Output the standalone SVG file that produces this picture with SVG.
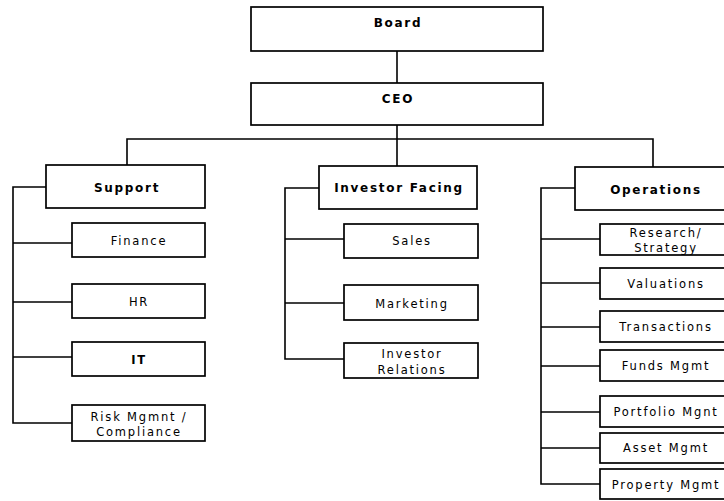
<svg xmlns="http://www.w3.org/2000/svg" width="724" height="501" viewBox="0 0 724 501">
  <style>
    .box { fill: #ffffff; stroke: #000000; stroke-width: 1.7; }
    .wire { fill: none; stroke: #000000; stroke-width: 1.6; }
    .head { font-family: "DejaVu Sans", Verdana, sans-serif; font-size: 12px; font-weight: bold; letter-spacing: 1.7px; fill: #000; text-anchor: middle; }
    .unit { font-family: "DejaVu Sans", Verdana, sans-serif; font-size: 11.5px; letter-spacing: 1.8px; fill: #000; text-anchor: middle; }
  </style>
  <rect width="724" height="501" fill="#ffffff"/>

  <!-- reporting lines -->
  <g id="connectors">
    <path class="wire" d="M397 51 V83"/>
    <path class="wire" d="M397 125 V166"/>
    <path class="wire" d="M127 165 V139 H653 V167"/>
    <!-- Support branch -->
    <path class="wire" d="M46 187 H13 V423 H72"/>
    <path class="wire" d="M13 243 H72"/>
    <path class="wire" d="M13 302 H72"/>
    <path class="wire" d="M13 357 H72"/>
    <!-- Investor Facing branch -->
    <path class="wire" d="M319 188 H285 V359 H344"/>
    <path class="wire" d="M285 239 H344"/>
    <path class="wire" d="M285 303 H344"/>
    <!-- Operations branch -->
    <path class="wire" d="M575 188 H541 V484 H600"/>
    <path class="wire" d="M541 239 H600"/>
    <path class="wire" d="M541 283 H600"/>
    <path class="wire" d="M541 327 H600"/>
    <path class="wire" d="M541 366 H600"/>
    <path class="wire" d="M541 412 H600"/>
    <path class="wire" d="M541 448 H600"/>
  </g>

  <g id="board">
    <rect class="box" x="251" y="7" width="292" height="44"/>
    <text class="head" x="398" y="27">Board</text>
  </g>
  <g id="ceo">
    <rect class="box" x="251" y="83" width="292" height="42"/>
    <text class="head" x="398" y="103">CEO</text>
  </g>

  <!-- Support -->
  <g id="support">
    <rect class="box" x="46" y="165" width="159" height="43"/>
    <text class="head" x="127" y="192">Support</text>
  </g>
  <g id="finance">
    <rect class="box" x="72" y="223" width="133" height="34"/>
    <text class="unit" x="139" y="245">Finance</text>
  </g>
  <g id="hr">
    <rect class="box" x="72" y="284" width="133" height="34"/>
    <text class="unit" x="139" y="306">HR</text>
  </g>
  <g id="it">
    <rect class="box" x="72" y="342" width="133" height="34"/>
    <text class="unit" x="139" y="364" font-weight="bold">IT</text>
  </g>
  <g id="risk">
    <rect class="box" x="72" y="405" width="133" height="36"/>
    <text class="unit" x="139" y="421">Risk Mgmnt /</text>
    <text class="unit" x="139" y="436">Compliance</text>
  </g>

  <!-- Investor Facing -->
  <g id="investor-facing">
    <rect class="box" x="319" y="166" width="158" height="43"/>
    <text class="head" x="399" y="192">Investor Facing</text>
  </g>
  <g id="sales">
    <rect class="box" x="344" y="224" width="134" height="34"/>
    <text class="unit" x="412" y="245">Sales</text>
  </g>
  <g id="marketing">
    <rect class="box" x="344" y="285" width="134" height="35"/>
    <text class="unit" x="412" y="308">Marketing</text>
  </g>
  <g id="investor-relations">
    <rect class="box" x="344" y="343" width="134" height="35"/>
    <text class="unit" x="412" y="358">Investor</text>
    <text class="unit" x="412" y="374">Relations</text>
  </g>

  <!-- Operations -->
  <g id="operations">
    <rect class="box" x="575" y="167" width="160" height="43"/>
    <text class="head" x="656" y="194">Operations</text>
  </g>
  <g id="research">
    <rect class="box" x="600" y="224" width="130" height="31"/>
    <text class="unit" x="666" y="237">Research/</text>
    <text class="unit" x="666" y="252">Strategy</text>
  </g>
  <g id="valuations">
    <rect class="box" x="600" y="268" width="130" height="31"/>
    <text class="unit" x="666" y="288">Valuations</text>
  </g>
  <g id="transactions">
    <rect class="box" x="600" y="311" width="130" height="31"/>
    <text class="unit" x="666" y="331">Transactions</text>
  </g>
  <g id="funds">
    <rect class="box" x="600" y="350" width="130" height="31"/>
    <text class="unit" x="666" y="370">Funds Mgmt</text>
  </g>
  <g id="portfolio">
    <rect class="box" x="600" y="396" width="130" height="31"/>
    <text class="unit" x="666" y="416">Portfolio Mgnt</text>
  </g>
  <g id="asset">
    <rect class="box" x="600" y="433" width="130" height="30"/>
    <text class="unit" x="666" y="452">Asset Mgmt</text>
  </g>
  <g id="property">
    <rect class="box" x="600" y="469" width="130" height="30"/>
    <text class="unit" x="666" y="489">Property Mgmt</text>
  </g>
</svg>
